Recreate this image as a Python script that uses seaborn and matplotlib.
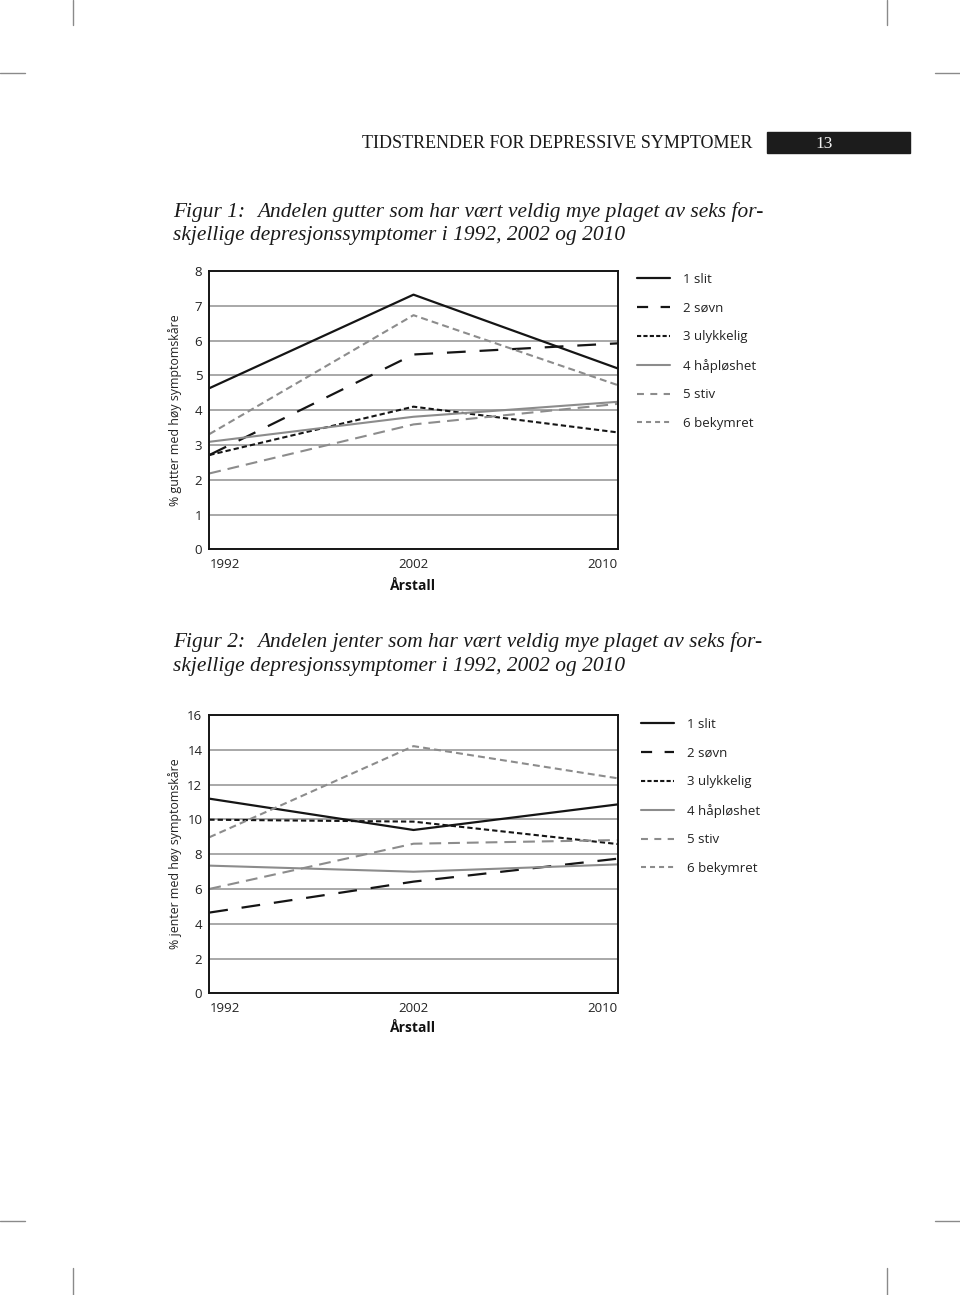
import matplotlib
matplotlib.use("Agg")
import matplotlib.pyplot as plt
from matplotlib.lines import Line2D
import seaborn as sns
import pandas as pd

# ---------------- data ----------------
years = ["1992", "2002", "2010"]
symptoms = ["1 slit", "2 søvn", "3 ulykkelig", "4 håpløshet", "5 stiv", "6 bekymret"]

gutter_slit = [4.63, 7.32, 5.20]
gutter_sovn = [2.71, 5.60, 5.92]
gutter_ulykkelig = [2.71, 4.10, 3.36]
gutter_haploshet = [3.09, 3.81, 4.24]
gutter_stiv = [2.18, 3.59, 4.18]
gutter_bekymret = [3.31, 6.73, 4.72]

jenter_slit = [11.19, 9.39, 10.86]
jenter_sovn = [4.64, 6.42, 7.74]
jenter_ulykkelig = [9.98, 9.87, 8.58]
jenter_haploshet = [7.34, 6.99, 7.41]
jenter_stiv = [6.00, 8.60, 8.81]
jenter_bekymret = [8.97, 14.21, 12.36]

gutter_ticks = [0, 1, 2, 3, 4, 5, 6, 7, 8]
jenter_ticks = [0, 2, 4, 6, 8, 10, 12, 14, 16]

# ---------------- styling ----------------
sns.set_theme(style="white")
plt.rcParams["font.family"] = ["Open Sans", "DejaVu Sans"]
plt.rcParams["lines.scale_dashes"] = False

BLACK = "#151515"
GRAY = "#8c8c8c"
styles = {
    "1 slit":      dict(color=BLACK, lw=1.6, ls="-", lls="-"),
    "2 søvn":      dict(color=BLACK, lw=1.6, ls=(0, (13.5, 10)), lls=(0, (8, 9))),
    "3 ulykkelig": dict(color=BLACK, lw=1.5, ls=(0, (3.8, 2.2)), lls=(0, (3.0, 1.6))),
    "4 håpløshet": dict(color=GRAY, lw=1.5, ls="-", lls="-"),
    "5 stiv":      dict(color=GRAY, lw=1.5, ls=(0, (8.5, 5)), lls=(0, (5, 4.6))),
    "6 bekymret":  dict(color=GRAY, lw=1.5, ls=(0, (5, 3)), lls=(0, (3.6, 2.9))),
}

W, H = 960, 1295
fig = plt.figure(figsize=(W / 100, H / 100), dpi=100)


def fx(px):
    return px / W


def fy(py):
    return 1 - py / H


def draw_chart(top_px, series, ticks, ylabel, legend_x, legend_top, xlabel_off):
    left, right, bottom = 209.3, 617.7, top_px + 278.3
    ax = fig.add_axes([fx(left), fy(bottom), fx(right - left), (bottom - top_px) / H])
    for name, vals in zip(symptoms, series):
        df = pd.DataFrame({"År": years, "Verdi": vals})
        st = styles[name]
        sns.lineplot(data=df, x="År", y="Verdi", ax=ax, color=st["color"],
                     linewidth=st["lw"], linestyle=st["ls"], label=name,
                     sort=False, legend=False)
    ax.set_xlim(0, 2)
    ax.set_ylim(ticks[0], ticks[-1])
    ax.set_yticks(ticks)
    ax.set_yticklabels([str(t) for t in ticks])
    ax.set_xticks([0, 1, 2])
    ax.set_xticklabels(years)
    for lab, ha in zip(ax.get_xticklabels(), ["left", "center", "right"]):
        lab.set_ha(ha)
    ax.grid(axis="y", color="#9a9a9a", lw=1.2)
    ax.set_axisbelow(True)
    for sp in ax.spines.values():
        sp.set_color(BLACK)
        sp.set_linewidth(1.4)
        sp.set_visible(True)
    ax.tick_params(axis="both", length=0, labelsize=9.5, colors="#222222")
    ax.tick_params(axis="x", pad=6)
    ax.tick_params(axis="y", pad=5)
    ax.set_xlabel("Årstall", fontsize=10, fontweight="bold", color="#111111")
    ax.xaxis.set_label_coords(0.5, xlabel_off)
    ax.set_ylabel(ylabel, fontsize=8.9, color="#222222")
    ax.yaxis.set_label_coords(-0.067, 0.5)
    handles = [Line2D([], [], color=styles[n]["color"], lw=styles[n]["lw"],
                      ls=styles[n]["lls"]) for n in symptoms]
    fig.legend(handles, symptoms, loc="upper left",
               bbox_to_anchor=(fx(legend_x), fy(legend_top)),
               bbox_transform=fig.transFigure, frameon=False,
               fontsize=9.5, handlelength=2.5, handletextpad=0.95,
               labelspacing=1.18, borderpad=0, borderaxespad=0,
               labelcolor="#222222")
    return ax


draw_chart(271.0,
           [gutter_slit, gutter_sovn, gutter_ulykkelig, gutter_haploshet,
            gutter_stiv, gutter_bekymret],
           gutter_ticks, "% gutter med høy symptomskåre", 637, 273, -0.105)
draw_chart(715.0,
           [jenter_slit, jenter_sovn, jenter_ulykkelig, jenter_haploshet,
            jenter_stiv, jenter_bekymret],
           jenter_ticks, "% jenter med høy symptomskåre", 641, 718, -0.098)

# ---------------- page text ----------------
serif = ["Liberation Serif", "DejaVu Serif"]
title_kw = dict(family=serif, style="italic", fontsize=15.4, color="#1a1a1a",
                va="baseline", ha="left")
fig.text(fx(173), fy(217), "Figur 1:", **title_kw)
fig.text(fx(257), fy(217), "Andelen gutter som har vært veldig mye plaget av seks for-", **title_kw)
fig.text(fx(173), fy(240), "skjellige depresjonssymptomer i 1992, 2002 og 2010", **title_kw)
fig.text(fx(173), fy(647), "Figur 2:", **title_kw)
fig.text(fx(257), fy(647), "Andelen jenter som har vært veldig mye plaget av seks for-", **title_kw)
fig.text(fx(173), fy(671), "skjellige depresjonssymptomer i 1992, 2002 og 2010", **title_kw)

fig.text(fx(752), fy(148), "TIDSTRENDER FOR DEPRESSIVE SYMPTOMER", family=serif,
         fontsize=13.0, color="#1a1a1a", ha="right", va="baseline")
fig.patches.append(plt.Rectangle((fx(767), fy(152.5)), fx(910 - 767), (152.5 - 132) / H,
                                 transform=fig.transFigure, color="#1c1c1c", zorder=1))
fig.text(fx(824), fy(148), "13", family=serif, fontsize=12.5, color="#f2f2f2",
         ha="center", va="baseline", zorder=2)

# crop marks
mark_kw = dict(color="#8a8a8a", lw=1.0, transform=fig.transFigure)
for (x0, y0, x1, y1) in [(73, 0, 73, 25), (887, 0, 887, 25),
                         (0, 73, 25, 73), (935, 73, 960, 73),
                         (0, 1221, 25, 1221), (935, 1221, 960, 1221),
                         (73, 1268, 73, 1295), (887, 1268, 887, 1295)]:
    fig.add_artist(Line2D([fx(x0), fx(x1)], [fy(y0), fy(y1)], **mark_kw))

fig.savefig("out.png", dpi=100, facecolor="white")
